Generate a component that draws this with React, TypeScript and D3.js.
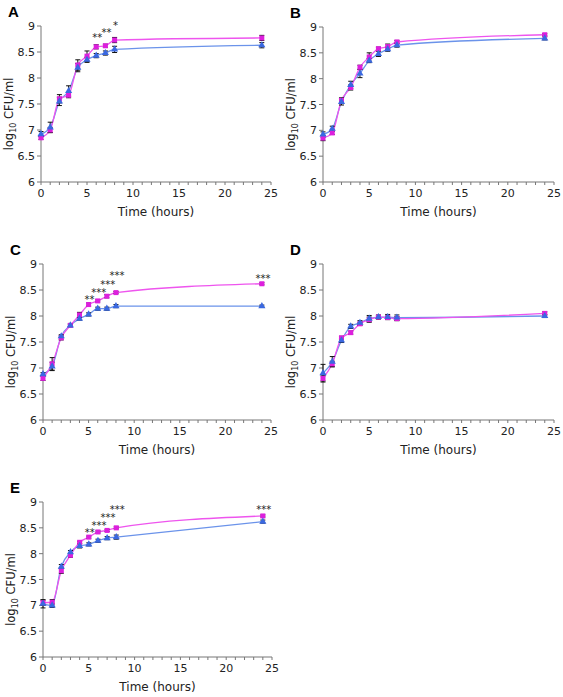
import React from "react";
import * as d3 from "d3";

const hours = [0, 1, 2, 3, 4, 5, 6, 7, 8, 24];
const xTicks = [0, 5, 10, 15, 20, 25];
const yTicks = [6, 6.5, 7, 7.5, 8, 8.5, 9];
const yTickLabels = ["6", "6.5", "7", "7.5", "8", "8.5", "9"];
const panelLetters = ["A", "B", "C", "D", "E"];

// Panel A
const aMagenta = [6.85, 7.0, 7.6, 7.67, 8.25, 8.42, 8.6, 8.62, 8.73, 8.77];
const aMagentaErr = [0.03, 0.05, 0.08, 0.05, 0.1, 0.1, 0.04, 0.03, 0.05, 0.05];
const aBlue = [6.92, 7.05, 7.55, 7.75, 8.2, 8.35, 8.43, 8.48, 8.55, 8.63];
const aBlueErr = [0.05, 0.1, 0.08, 0.1, 0.08, 0.05, 0.04, 0.04, 0.06, 0.05];
const aStarHours = [6, 7, 8];
const aStarLabels = ["**", "**", "*"];
const aStarLevels = [8.82, 8.92, 9.05];

// Panel B
const bMagenta = [6.85, 6.95, 7.58, 7.83, 8.22, 8.42, 8.58, 8.62, 8.71, 8.85];
const bMagentaErr = [0.05, 0.03, 0.05, 0.05, 0.04, 0.08, 0.03, 0.05, 0.03, 0.02];
const bBlue = [6.92, 7.03, 7.55, 7.88, 8.1, 8.35, 8.48, 8.57, 8.65, 8.78];
const bBlueErr = [0.05, 0.05, 0.06, 0.07, 0.08, 0.04, 0.05, 0.04, 0.04, 0.03];
const bStarHours: number[] = [];
const bStarLabels: string[] = [];
const bStarLevels: number[] = [];

// Panel C
const cMagenta = [6.8, 7.08, 7.58, 7.82, 8.02, 8.22, 8.29, 8.38, 8.45, 8.62];
const cMagentaErr = [0.04, 0.12, 0.04, 0.03, 0.05, 0.03, 0.02, 0.03, 0.02, 0.02];
const cBlue = [6.88, 7.03, 7.61, 7.82, 7.95, 8.03, 8.14, 8.14, 8.19, 8.19];
const cBlueErr = [0.03, 0.08, 0.03, 0.02, 0.03, 0.03, 0.03, 0.03, 0.03, 0.02];
const cStarHours = [5, 6, 7, 8, 24];
const cStarLabels = ["**", "***", "***", "***", "***"];
const cStarLevels = [8.36, 8.5, 8.65, 8.82, 8.76];

// Panel D
const dMagenta = [6.8, 7.08, 7.58, 7.68, 7.85, 7.93, 7.98, 7.97, 7.95, 8.05];
const dMagentaErr = [0.05, 0.05, 0.03, 0.03, 0.03, 0.05, 0.03, 0.03, 0.04, 0.03];
const dBlue = [6.9, 7.12, 7.53, 7.8, 7.87, 7.95, 7.98, 7.98, 7.97, 8.0];
const dBlueErr = [0.17, 0.1, 0.04, 0.04, 0.04, 0.06, 0.04, 0.05, 0.05, 0.03];
const dStarHours: number[] = [];
const dStarLabels: string[] = [];
const dStarLevels: number[] = [];

// Panel E
const eMagenta = [7.05, 7.06, 7.67, 7.97, 8.22, 8.32, 8.42, 8.45, 8.5, 8.73];
const eMagentaErr = [0.05, 0.05, 0.05, 0.04, 0.02, 0.02, 0.02, 0.02, 0.02, 0.02];
const eBlue = [7.03, 7.0, 7.75, 8.03, 8.15, 8.18, 8.25, 8.3, 8.32, 8.62];
const eBlueErr = [0.08, 0.04, 0.04, 0.03, 0.04, 0.03, 0.03, 0.03, 0.04, 0.03];
const eStarHours = [5, 6, 7, 8, 24];
const eStarLabels = ["**", "***", "***", "***", "***"];
const eStarLevels = [8.46, 8.6, 8.75, 8.9, 8.91];

const MAGENTA_LINE = "#ee55ee";
const MAGENTA_MARK = "#dd1fdd";
const BLUE_LINE = "#6b93ea";
const BLUE_MARK = "#3a68e0";
const FONT = "'DejaVu Sans', Verdana, sans-serif";

type PanelData = {
  magenta: number[];
  magentaErr: number[];
  blue: number[];
  blueErr: number[];
  starHours: number[];
  starLabels: string[];
  starLevels: number[];
};

const panelsData: PanelData[] = [
  { magenta: aMagenta, magentaErr: aMagentaErr, blue: aBlue, blueErr: aBlueErr, starHours: aStarHours, starLabels: aStarLabels, starLevels: aStarLevels },
  { magenta: bMagenta, magentaErr: bMagentaErr, blue: bBlue, blueErr: bBlueErr, starHours: bStarHours, starLabels: bStarLabels, starLevels: bStarLevels },
  { magenta: cMagenta, magentaErr: cMagentaErr, blue: cBlue, blueErr: cBlueErr, starHours: cStarHours, starLabels: cStarLabels, starLevels: cStarLevels },
  { magenta: dMagenta, magentaErr: dMagentaErr, blue: dBlue, blueErr: dBlueErr, starHours: dStarHours, starLabels: dStarLabels, starLevels: dStarLevels },
  { magenta: eMagenta, magentaErr: eMagentaErr, blue: eBlue, blueErr: eBlueErr, starHours: eStarHours, starLabels: eStarLabels, starLevels: eStarLevels },
];

// layout boxes: [left, right, top, bottom]
const boxes = [
  [41, 271, 26, 182],
  [323, 554, 27, 182],
  [43, 271, 264, 420],
  [323, 554, 264, 420],
  [43, 272, 502, 657],
];

function Panel({ data, box, letter }: { data: PanelData; box: number[]; letter: string }) {
  const [l, r, t, b] = box;
  const x = d3.scaleLinear().domain([0, 25]).range([l, r]);
  const y = d3.scaleLinear().domain([6, 9]).range([b, t]);
  const line = d3
    .line<number>()
    .x((_, i) => x(hours[i]))
    .y((v) => y(v))
    .curve(d3.curveMonotoneX);
  const minor = d3.range(0, 26, 1);
  const tri = d3.symbol().type(d3.symbolTriangle).size(22)();
  const midY = (t + b) / 2;
  return (
    <g>
      <text x={l - 33} y={t - 9} fontFamily="'Liberation Sans', Arial, sans-serif" fontWeight="bold" fontSize={15} fill="#000">
        {letter}
      </text>
      {/* axes */}
      <line x1={l} x2={l} y1={t} y2={b} stroke="#777" strokeWidth={1} />
      <line x1={l} x2={r} y1={b} y2={b} stroke="#777" strokeWidth={1} />
      {yTicks.map((v, i) => (
        <g key={"y" + i}>
          <line x1={l - 4} x2={l} y1={y(v)} y2={y(v)} stroke="#777" />
          <text x={l - 6} y={y(v) + 4} textAnchor="end" fontFamily={FONT} fontSize={11} fill="#222">
            {yTickLabels[i]}
          </text>
        </g>
      ))}
      {minor.map((v) => (
        <line key={"m" + v} x1={x(v)} x2={x(v)} y1={b} y2={b + 3} stroke="#777" />
      ))}
      {xTicks.map((v) => (
        <text key={"x" + v} x={x(v)} y={b + 15} textAnchor="middle" fontFamily={FONT} fontSize={11} fill="#222">
          {v}
        </text>
      ))}
      <text x={(l + r) / 2} y={b + 34} textAnchor="middle" fontFamily={FONT} fontSize={12} fill="#222">
        Time (hours)
      </text>
      <text
        transform={`translate(${l - 28},${midY + 10}) rotate(-90)`}
        textAnchor="middle"
        fontFamily={FONT}
        fontSize={11.5}
        fill="#222"
      >
        log
        <tspan fontSize={8} dy={3}>10</tspan>
        <tspan dy={-3}> CFU/ml</tspan>
      </text>
      {/* lines */}
      <path d={line(data.blue) || ""} fill="none" stroke={BLUE_LINE} strokeWidth={1.3} />
      <path d={line(data.magenta) || ""} fill="none" stroke={MAGENTA_LINE} strokeWidth={1.3} />
      {/* error bars */}
      {data.blue.map((v, i) => (
        <g key={"be" + i} stroke="#111" strokeWidth={1}>
          <line x1={x(hours[i])} x2={x(hours[i])} y1={y(v - data.blueErr[i])} y2={y(v + data.blueErr[i])} />
          <line x1={x(hours[i]) - 2.5} x2={x(hours[i]) + 2.5} y1={y(v - data.blueErr[i])} y2={y(v - data.blueErr[i])} />
          <line x1={x(hours[i]) - 2.5} x2={x(hours[i]) + 2.5} y1={y(v + data.blueErr[i])} y2={y(v + data.blueErr[i])} />
        </g>
      ))}
      {data.magenta.map((v, i) => (
        <g key={"me" + i} stroke="#111" strokeWidth={1}>
          <line x1={x(hours[i])} x2={x(hours[i])} y1={y(v - data.magentaErr[i])} y2={y(v + data.magentaErr[i])} />
          <line x1={x(hours[i]) - 2.5} x2={x(hours[i]) + 2.5} y1={y(v - data.magentaErr[i])} y2={y(v - data.magentaErr[i])} />
          <line x1={x(hours[i]) - 2.5} x2={x(hours[i]) + 2.5} y1={y(v + data.magentaErr[i])} y2={y(v + data.magentaErr[i])} />
        </g>
      ))}
      {/* markers */}
      {data.magenta.map((v, i) => (
        <rect key={"ms" + i} x={x(hours[i]) - 2.5} y={y(v) - 2.5} width={5} height={5} fill={MAGENTA_MARK} />
      ))}
      {data.blue.map((v, i) => (
        <path key={"bt" + i} d={tri || ""} transform={`translate(${x(hours[i])},${y(v)})`} fill={BLUE_MARK} />
      ))}
      {/* significance stars */}
      {data.starHours.map((h, i) => (
        <text key={"s" + i} x={x(h) + 1} y={y(data.starLevels[i]) + 6} textAnchor="middle" fontFamily={FONT} fontSize={10} fill="#222">
          {data.starLabels[i]}
        </text>
      ))}
    </g>
  );
}

export default function App() {
  return (
    <svg width={563} height={697} style={{ position: "absolute", left: 0, top: 0, display: "block" }}>
      {panelsData.map((p, i) => (
        <Panel key={i} data={p} box={boxes[i]} letter={panelLetters[i]} />
      ))}
    </svg>
  );
}
